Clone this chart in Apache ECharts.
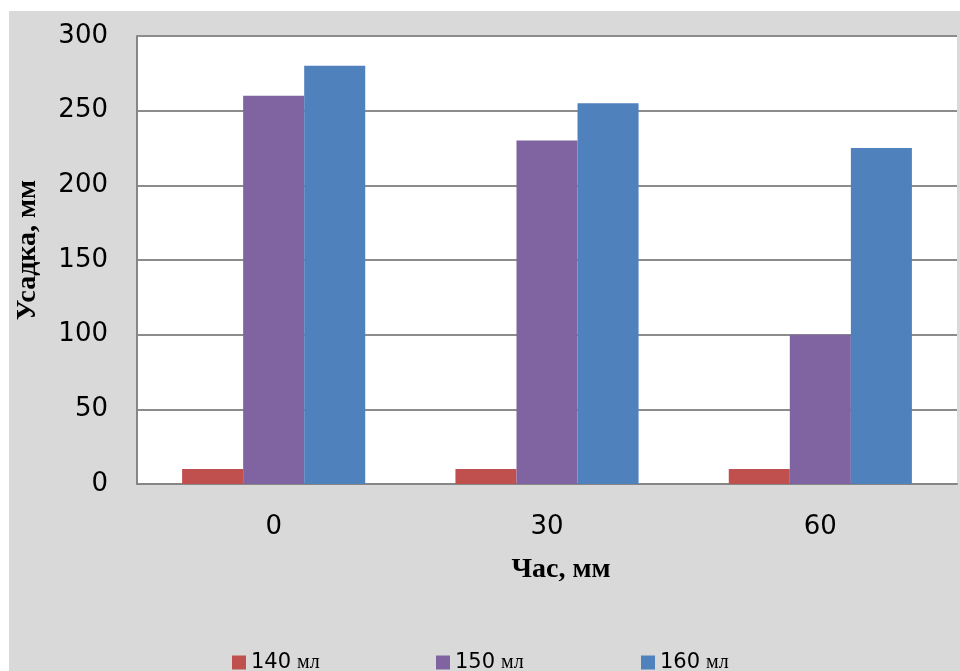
<!DOCTYPE html>
<html>
<head>
<meta charset="utf-8">
<script src="https://cdn.jsdelivr.net/npm/echarts@6/dist/echarts.min.js"></script>
<style>html,body{margin:0;padding:0;background:#fff}#c{width:960px;height:671px}</style>
</head>
<body>
<div id="c"></div>
<script>
const categories = ['0', '30', '60'];
const seriesNames = ['140', '150', '160'];
const s140 = [10, 10, 10];
const s150 = [260, 230, 100];
const s160 = [280, 255, 225];
const yTicks = [0, 50, 100, 150, 200, 250, 300];
const colors = ['#c0504d', '#8064a2', '#4f81bd'];

const chart = echarts.init(document.getElementById('c'));
const legendLefts = [227, 431, 636];
const legendRich = {
  n: {fontFamily: 'DejaVu Sans', fontSize: 21, color: '#000'},
  u: {fontFamily: 'Liberation Serif', fontSize: 20, color: '#000', padding: [0, 0, 0, 6]}
};
const dataSets = [s140, s150, s160];
const titleFont = {fontFamily: 'Liberation Serif', fontWeight: 'bold', fontSize: 28, fill: '#000'};
chart.setOption({
  backgroundColor: '#fff',
  graphic: [
    {type: 'rect', z: -10, shape: {x: 9, y: 11, width: 951, height: 660}, style: {fill: '#d9d9d9'}},
    {type: 'text', x: 561, y: 570, style: Object.assign({text: 'Час, мм', align: 'center', verticalAlign: 'middle'}, titleFont)},
    {type: 'text', x: 28, y: 250, rotation: Math.PI / 2, style: Object.assign({text: 'Усадка, мм', align: 'center', verticalAlign: 'middle'}, titleFont)}
  ],
  grid: {left: 137, right: 3, top: 36, bottom: 187, show: true, backgroundColor: '#fff', borderWidth: 0},
  legend: seriesNames.map((n, i) => ({
    data: [n + ' мл'], left: legendLefts[i], top: 647, itemWidth: 14, itemHeight: 14, itemGap: 5,
    icon: 'rect',
    formatter: name => '{n|' + name.split(' ')[0] + '}{u|мл}',
    textStyle: {rich: legendRich}
  })),
  xAxis: {
    type: 'category', data: categories,
    axisLine: {lineStyle: {color: '#868686', width: 2}},
    axisTick: {show: false},
    axisLabel: {fontFamily: 'DejaVu Sans', fontSize: 26, color: '#000', margin: 30}
  },
  yAxis: {
    type: 'value', min: yTicks[0], max: yTicks[yTicks.length - 1], interval: 50,
    axisLine: {show: true, lineStyle: {color: '#868686', width: 2}},
    axisTick: {show: false},
    splitLine: {lineStyle: {color: '#8c8c8c', width: 2}},
    axisLabel: {fontFamily: 'DejaVu Sans', fontSize: 26, color: '#000', margin: 29}
  },
  series: seriesNames.map((n, i) => ({
    name: n + ' мл', type: 'bar', data: dataSets[i],
    itemStyle: {color: colors[i]},
    barGap: '0%', barCategoryGap: '33%'
  }))
});
</script>
</body>
</html>
